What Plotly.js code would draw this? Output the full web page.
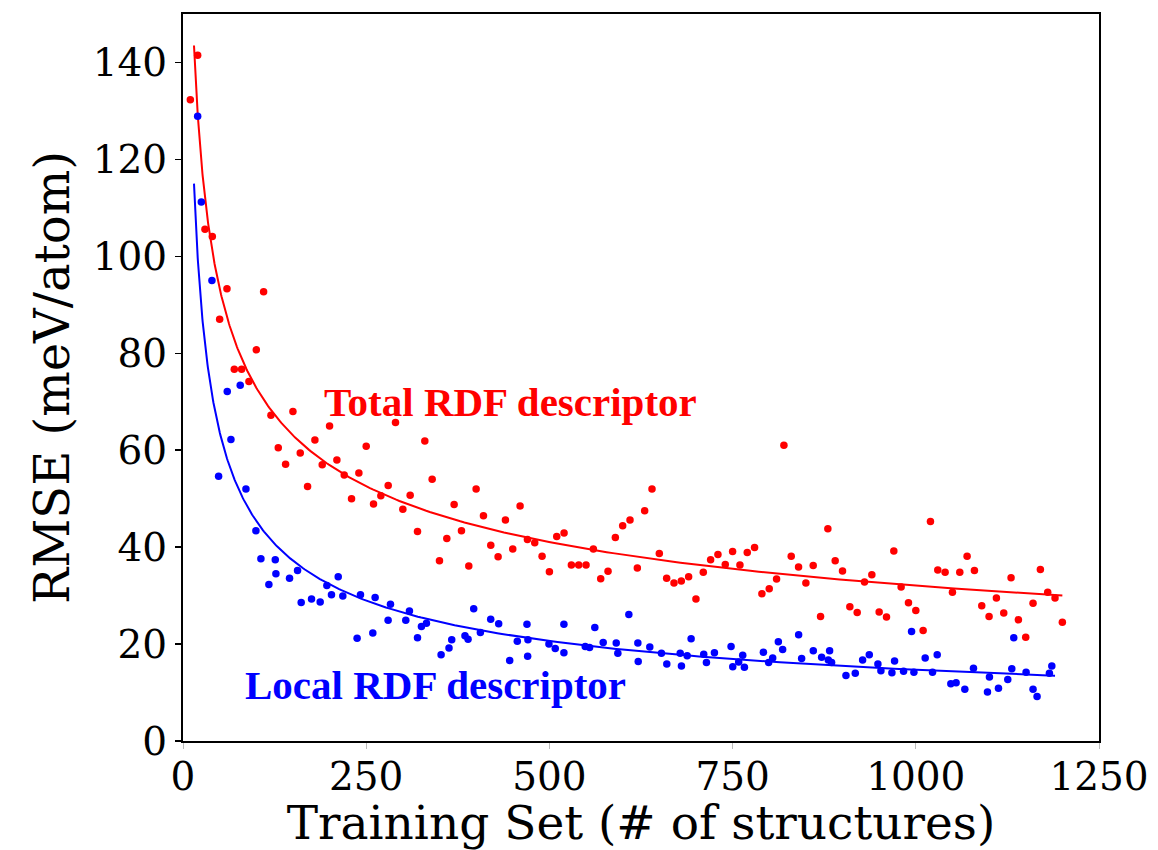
<!DOCTYPE html>
<html>
<head>
<meta charset="utf-8">
<script src="https://cdn.plot.ly/plotly-3.0.1.min.js"></script>
<style>html,body{margin:0;padding:0;background:#fff;}#chart{width:1158px;height:850px;}</style>
</head>
<body>
<div id="chart"></div>
<script>
// Total RDF descriptor (red) points
const totalX = [10,20,30,40,50,60,70,80,90,100,110,120,130,140,150,160,170,180,190,200,210,220,230,240,250,260,270,280,290,300,310,320,330,340,350,360,370,380,390,400,410,420,430,440,450,460,470,480,490,500,510,520,530,540,550,560,570,580,590,600,610,620,630,640,650,660,670,680,690,700,710,720,730,740,750,760,770,780,790,800,810,820,830,840,850,860,870,880,890,900,910,920,930,940,950,960,970,980,990,1000,1010,1020,1030,1040,1050,1060,1070,1080,1090,1100,1110,1120,1130,1140,1150,1160,1170,1180,1190,1200];
const totalY = [132.3,141.5,105.6,104.1,87.0,93.3,76.7,76.7,74.2,80.7,92.7,67.2,60.5,57.1,68.0,59.4,52.5,62.1,57.0,65.0,58.0,54.9,50.0,55.3,60.8,48.9,50.6,52.7,65.7,47.8,50.7,43.2,61.9,54.0,37.2,41.8,48.8,43.4,36.1,52.0,46.5,40.4,38.0,45.6,39.6,48.5,41.6,40.9,38.1,34.9,42.2,42.9,36.3,36.3,36.3,39.6,33.5,35.0,42.0,44.4,45.6,35.7,47.5,52.0,38.7,33.6,32.6,33.0,33.9,29.3,34.8,37.4,38.5,36.4,39.1,36.3,38.9,39.9,30.4,31.4,33.4,61.0,38.1,35.9,32.6,36.2,25.7,43.8,37.2,35.1,27.7,26.5,32.8,34.3,26.6,25.6,39.2,31.8,28.5,26.9,22.8,45.3,35.3,34.8,30.7,34.8,38.1,35.2,27.9,25.7,29.5,26.4,33.7,25.0,21.4,28.4,35.4,30.7,29.5,24.5];

// Local RDF descriptor (blue) points
const localX = [20,25,39.5,48.6,60.4,65.4,78.1,85.9,99.5,106.3,117.2,125.9,126.8,145.4,156.3,161.3,175.4,187.2,196.3,202.6,211.8,218.1,237.6,242.2,259,262.2,279.9,283.1,304,309,320,325.4,332.2,352.2,363,366.7,384.8,389,396.7,405.8,419.9,430.8,445.8,456.2,469.4,470.7,470.3,499.4,508,519.8,519.8,548.9,554.8,562,573.4,591.2,593.4,608.4,620.7,621.2,637,652.9,660.2,678.5,680.2,688,693.4,710.6,714.3,725.2,747.9,750.2,758.3,763.8,766.1,792,799.2,804.7,812.4,818.3,840.1,844.2,860.1,871.5,880.6,882.4,885.1,904.7,917.4,927.4,936.5,948.3,952.4,967.4,971,983.3,994.2,997.4,1012.8,1022.8,1029.2,1047.8,1055,1066.9,1078.7,1097.8,1100.5,1112.8,1125.5,1131,1133.7,1150.5,1160,1165.5,1182.3,1185.6];
const localY = [128.9,111.2,95.0,54.6,72.1,62.2,73.4,52.0,43.4,37.6,32.3,37.4,34.5,33.6,35.2,28.6,29.3,28.7,32.1,30.2,33.9,29.9,21.2,30.2,22.3,29.6,24.9,28.2,24.9,26.8,21.3,23.6,24.3,17.8,19.2,20.9,21.7,21.0,27.3,22.4,25.1,24.2,16.6,20.6,24.1,20.9,17.5,20.0,19.1,24.1,18.2,19.5,19.3,23.4,20.3,20.2,18.1,26.1,20.2,16.4,19.4,18.1,15.9,18.1,15.5,17.6,21.1,17.9,16.2,18.2,19.5,15.3,16.3,17.7,15.2,18.3,16.2,17.1,20.5,18.9,21.9,17.0,18.6,17.3,16.7,18.6,16.2,13.5,14.0,16.7,17.8,15.9,14.5,14.1,16.5,14.4,22.6,14.2,17.1,14.2,17.8,11.8,12.0,10.7,15.0,10.1,13.2,10.9,12.7,14.9,21.3,14.2,10.7,9.2,14.0,15.5];

// Power-law fit parameters (y = a * x^b)
const totalFit = {a: 143.5 * Math.pow(15, 0.357), b: -0.357, x0: 15, x1: 1200};
const localFit = {a: 115 * Math.pow(15, 0.49), b: -0.49, x0: 15, x1: 1190};

const xTicks = [0,250,500,750,1000,1250];
const yTicks = [0,20,40,60,80,100,120,140];
const labels = ["Total RDF descriptor", "Local RDF descriptor"];

function fitCurve(f) {
  const xs = [], ys = [];
  const n = 300;
  for (let i = 0; i <= n; i++) {
    const x = f.x0 * Math.pow(f.x1 / f.x0, i / n);
    xs.push(x); ys.push(f.a * Math.pow(x, f.b));
  }
  return {xs, ys};
}
const tc = fitCurve(totalFit), lc = fitCurve(localFit);

const traces = [
  {x: tc.xs, y: tc.ys, mode: 'lines', line: {color: '#ff0000', width: 2}, hoverinfo: 'skip'},
  {x: lc.xs, y: lc.ys, mode: 'lines', line: {color: '#0000ff', width: 2}, hoverinfo: 'skip'},
  {x: totalX, y: totalY, mode: 'markers', marker: {color: '#ff0000', size: 7.5}},
  {x: localX, y: localY, mode: 'markers', marker: {color: '#0000ff', size: 7.5}}
];

const axisFont = {family: 'DejaVu Serif, serif', size: 39, color: '#000'};
const layout = {
  width: 1158, height: 850,
  margin: {l: 183, r: 59, t: 14, b: 109, pad: 0},
  paper_bgcolor: '#fff', plot_bgcolor: '#fff',
  showlegend: false,
  xaxis: {
    range: [0, 1250], tickvals: xTicks, ticktext: xTicks.map(String),
    ticks: 'outside', ticklen: 6, tickwidth: 1, tickcolor: '#bbb',
    ticklabelstandoff: -6,
    showline: true, linecolor: '#000', linewidth: 2, mirror: true,
    showgrid: false, zeroline: false, tickfont: axisFont,
    title: {text: 'Training Set (# of structures)', font: {family: 'DejaVu Serif, serif', size: 47, color: '#000'}, standoff: 6}
  },
  yaxis: {
    range: [0, 150], tickvals: yTicks, ticktext: yTicks.map(String),
    ticks: 'outside', ticklen: 6, tickwidth: 1.5, tickcolor: '#000',
    showline: true, linecolor: '#000', linewidth: 2, mirror: true,
    showgrid: false, zeroline: false, tickfont: axisFont,
    title: {text: 'RMSE (meV/atom)', font: {family: 'DejaVu Serif, serif', size: 48, color: '#000'}, standoff: 8}
  },
  annotations: [
    {x: 447, y: 70, xref: 'x', yref: 'y', text: '<b>' + labels[0] + '</b>', showarrow: false,
     font: {family: 'Liberation Serif, Times New Roman, serif', size: 41, color: '#ff0000'}},
    {x: 345, y: 11.6, xref: 'x', yref: 'y', text: '<b>' + labels[1] + '</b>', showarrow: false,
     font: {family: 'Liberation Serif, Times New Roman, serif', size: 41, color: '#0000ff'}}
  ]
};
Plotly.newPlot('chart', traces, layout, {staticPlot: true, displayModeBar: false});
</script>
</body>
</html>
